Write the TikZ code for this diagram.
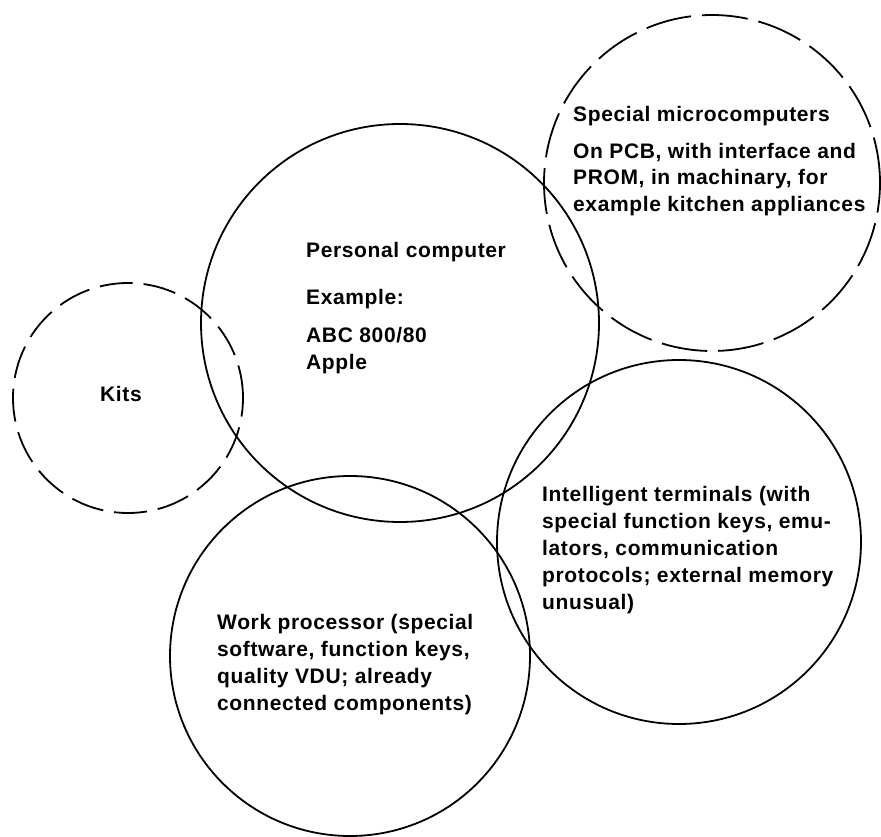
\documentclass[tikz,border=0pt]{standalone}
\usepackage{fontspec}
\setmainfont{Liberation Sans}[LetterSpace=3]
\usepackage{tikz}
\usetikzlibrary{shapes.geometric}

\tikzset{
    ring/.style = {circle, draw, line width=1.8pt, inner sep=0pt},
    dashring/.style = {ring, dash pattern=on #1 off 11pt},
    blurb/.style = {align=left, inner sep=0pt, anchor=base west,
        font=\fontsize{21}{27}\selectfont\bfseries}
}

\begin{document}
\begin{tikzpicture}[x=1pt, y=-1pt]
        \useasboundingbox (0, 0) rectangle (881, 837);

        % the five groups
        \node[dashring=33pt, minimum size=230pt] (kits) at (128, 398) {};
        \node[ring, minimum size=398pt] (pc) at (400, 323) {};
        \node[dashring=46pt, minimum size=336pt] (micro) at (712, 183) {};
        \node[ring, minimum size=364pt] (term) at (679, 542) {};
        \node[ring, minimum size=360pt] (word) at (350, 656) {};

        % texts (placed at the baseline of the last line)
        \node[blurb] (kitstext) at (100, 401) {Kits};
        \node[blurb] (pctext) at (306, 369) {Personal computer\\[20pt]
            Example:\\[11pt]
            ABC 800/80\\
            Apple};
        \node[blurb] (microtext) at (573, 212) {Special microcomputers\\[9pt]
            On PCB, with interface and\\
            PROM, in machinary, for\\
            example kitchen appliances};
        \node[blurb] (termtext) at (542, 609) {Intelligent terminals (with\\
            special function keys, emu-\\
            lators, communication\\
            protocols; external memory\\
            unusual)};
        \node[blurb] (wordtext) at (217, 710) {Work processor (special\\
            software, function keys,\\
            quality VDU; already\\
            connected components)};
    \end{tikzpicture}
\end{document}
